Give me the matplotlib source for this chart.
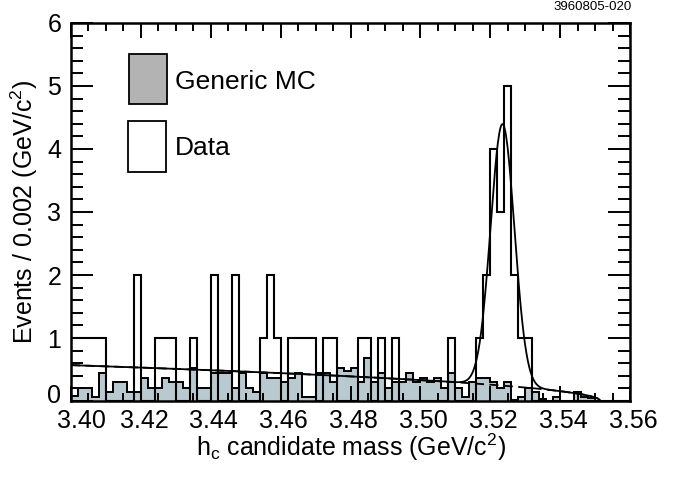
import numpy as np
import matplotlib
matplotlib.use("Agg")
import matplotlib.pyplot as plt
from matplotlib.patches import Rectangle
from matplotlib.ticker import MultipleLocator
import matplotlib.transforms as mtransforms

plt.rcParams['font.family'] = ['Liberation Sans', 'DejaVu Sans']
plt.rcParams['mathtext.default'] = 'regular'

# histogram range and bin width (GeV/c^2)
mass_lo = 3.40
mass_hi = 3.56
bin_width = 0.002

# data: events per bin (80 bins)
data_counts = [1, 1, 1, 1, 1, 0, 0, 0, 0, 2,
               0, 0, 1, 1, 1, 0, 0, 1, 0, 0,
               2, 0, 0, 2, 0, 0, 0, 1, 2, 1,
               0, 1, 1, 1, 1, 0, 1, 1, 0, 0,
               0, 1, 1, 0, 1, 0, 1, 0, 0, 0,
               0, 0, 0, 0, 1, 0, 0, 0, 1, 2,
               4, 3, 5, 2, 1, 1, 0, 0, 0, 0,
               0, 0, 0, 0, 0, 0, 0, 0, 0, 0]

# generic MC, scaled
mc_counts = [0.08, 0.20, 0.20, 0.07, 0.45, 0.15, 0.30, 0.30, 0.15, 0.15,
             0.37, 0.20, 0.20, 0.37, 0.30, 0.30, 0.20, 0.53, 0.20, 0.20,
             0.45, 0.45, 0.45, 0.20, 0.45, 0.20, 0.15, 0.44, 0.37, 0.37,
             0.31, 0.37, 0.45, 0.07, 0.07, 0.45, 0.45, 0.31, 0.53, 0.47,
             0.53, 0.31, 0.69, 0.31, 0.45, 0.20, 0.31, 0.31, 0.45, 0.31,
             0.37, 0.31, 0.37, 0.20, 0.45, 0.20, 0.07, 0.31, 0.37, 0.37,
             0.31, 0.20, 0.31, 0.02, 0.07, 0.20, 0.15, 0.03, 0.00, 0.07,
             0.00, 0.00, 0.15, 0.07, 0.05, 0.00, 0.00, 0.00, 0.00, 0.00]

# fit result: gaussian peak + threshold background
peak_mass = 3.5235
peak_sigma = 0.0034
peak_height = 4.15
bkg_at_lo = 0.57
bkg_threshold = 3.5515
bkg_power = 0.5

edges = np.arange(len(data_counts) + 1) * bin_width + mass_lo

fig = plt.figure(figsize=(6.84, 4.78), dpi=100)
ax = fig.add_axes([0.1038, 0.161, 0.8173, 0.791])

ax.stairs(mc_counts, edges, fill=True, facecolor='#b8c9d0', edgecolor='none')
ax.stairs(mc_counts, edges, color='black', lw=1.4)
ax.stairs(data_counts, edges, color='black', lw=1.5)

x = np.linspace(mass_lo, mass_hi, 800)
bkg = bkg_at_lo * (np.clip(bkg_threshold - x, 0, None) / (bkg_threshold - mass_lo)) ** bkg_power
sig = peak_height * np.exp(-0.5 * ((x - peak_mass) / peak_sigma) ** 2)
ax.plot(x, bkg, color='black', lw=1.3, ls=(0, (5, 3)))
ax.plot(x, bkg + sig, color='black', lw=1.3)

ax.set_xlim(mass_lo, mass_hi)
ax.set_ylim(0, 6)
ax.xaxis.set_major_locator(MultipleLocator(0.02))
ax.xaxis.set_minor_locator(MultipleLocator(0.005))
ax.yaxis.set_major_locator(MultipleLocator(1))
ax.yaxis.set_minor_locator(MultipleLocator(0.2))
ax.xaxis.set_major_formatter(plt.FormatStrFormatter('%.2f'))
ax.yaxis.set_major_formatter(plt.FormatStrFormatter('%d'))
ax.tick_params(which='both', direction='in', top=True, right=True, width=1.4,
               labelsize=18, colors='black')
ax.tick_params(axis='x', which='major', length=11, pad=6)
ax.tick_params(axis='x', which='minor', length=6)
ax.tick_params(axis='y', which='major', length=16, pad=7)
ax.tick_params(axis='y', which='minor', length=8.5)
for s in ax.spines.values():
    s.set_linewidth(1.8)

ax.set_xlabel('h$_c$ candidate mass (GeV/c$^2$)', fontsize=18, labelpad=-1)
ax.set_ylabel('Events / 0.002 (GeV/c$^2$)', fontsize=18, labelpad=5)

# nudge tick labels like the original
fig.canvas.draw()
for lab in ax.get_xticklabels():
    dx = 10 if lab.get_text() == '3.40' else 3
    lab.set_transform(lab.get_transform() + mtransforms.ScaledTranslation(dx / 100, 0, fig.dpi_scale_trans))
for lab in ax.get_yticklabels():
    if lab.get_text() == '0':
        lab.set_transform(lab.get_transform() + mtransforms.ScaledTranslation(0, 8 / 100, fig.dpi_scale_trans))

# legend boxes
ax.add_patch(Rectangle((0.1038, 0.7857), 0.068, 0.132, transform=ax.transAxes,
                       facecolor='#b3b3b3', edgecolor='black', lw=1.3))
ax.add_patch(Rectangle((0.102, 0.606), 0.068, 0.135, transform=ax.transAxes,
                       facecolor='white', edgecolor='black', lw=1.3))
ax.text(0.186, 0.844, 'Generic MC', transform=ax.transAxes, fontsize=19, va='center')
ax.text(0.186, 0.669, 'Data', transform=ax.transAxes, fontsize=19, va='center')

fig.text(632 / 684, 1 - 7 / 478, '3960805-020', fontsize=9.5, ha='right', va='center')

fig.savefig('out.png', dpi=100)
